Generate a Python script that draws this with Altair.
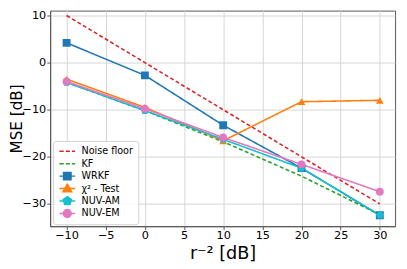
import altair as alt
import pandas as pd

# ---- data ----
x_vals = [-10, 0, 10, 20, 30]
series_names = ["Noise floor", "KF", "WRKF", "χ² - Test", "NUV-AM", "NUV-EM"]
noise_floor = [10.0, 0.0, -10.0, -20.0, -30.0]
kf = [-4.2, -10.2, -16.8, -24.1, -32.3]
wrkf = [4.2, -2.7, -13.3, -22.4, -32.4]
chi2_test = [-3.5, -9.5, -16.6, -8.3, -8.0]
nuv_am = [-4.2, -10.2, -16.3, -22.4, -32.4]
nuv_em = [-4.0, -9.8, -15.9, -21.6, -27.4]
x_ticks = [-10, -5, 0, 5, 10, 15, 20, 25, 30]
y_ticks = [-30, -20, -10, 0, 10]

colors = ["#d62728", "#2ca02c", "#1f77b4", "#ff7f0e", "#17becf", "#e377c2"]
dashes = [[4, 2.5], [4, 2.5], [1, 0], [1, 0], [1, 0], [1, 0]]
line_widths = [1.6, 1.6, 1.3, 1.3, 1.6, 1.3]

values = [noise_floor, kf, wrkf, chi2_test, nuv_am, nuv_em]
rows = []
for name, ys in zip(series_names, values):
    for xv, yv in zip(x_vals, ys):
        rows.append({"series": name, "x": xv, "y": yv})
df = pd.DataFrame(rows)

pentagon = "M0,-1.05L0.999,-0.324L0.617,0.849L-0.617,0.849L-0.999,-0.324Z"
marker_shapes = {"WRKF": "square", "χ² - Test": "triangle-up", "NUV-AM": pentagon, "NUV-EM": "circle"}

# legend symbol paths (unit = sqrt(symbolSize)/2 px)
dash_path = "M-1.78,0H-0.8M-0.35,0H0.6M1.05,0H1.78"
line_path = "M-1.78,0H1.78"
legend_shapes = [
    dash_path,
    dash_path,
    line_path + "M-0.85,-0.85H0.85V0.85H-0.85Z",
    line_path + "M0,-1.05L1.0,0.75H-1.0Z",
    line_path + "M0,-1.0L0.95,-0.31L0.59,0.81L-0.59,0.81L-0.95,-0.31Z",
    line_path + "M0.9,0A0.9,0.9,0,1,1,-0.9,0A0.9,0.9,0,1,1,0.9,0Z",
]
df_leg = pd.DataFrame({"series": series_names})

x_enc = alt.X("x:Q", scale=alt.Scale(domain=[-12.1, 31.95], nice=False, zero=False),
              axis=alt.Axis(values=x_ticks, title="r⁻² [dB]", titleBaseline="alphabetic",
                            titleY=33, labelPadding=0, titleFontSize=18))
y_enc = alt.Y("y:Q", scale=alt.Scale(domain=[-34.73, 11.04], nice=False, zero=False),
              axis=alt.Axis(values=y_ticks, title="MSE [dB]", titleX=-29,
                            titleBaseline="alphabetic", labelPadding=1))

color_scale = alt.Scale(domain=series_names, range=colors)

lines = alt.Chart(df).mark_line(clip=True).encode(
    x=x_enc,
    y=y_enc,
    color=alt.Color("series:N", scale=color_scale, legend=None),
    strokeDash=alt.StrokeDash("series:N", scale=alt.Scale(domain=series_names, range=dashes), legend=None),
    strokeWidth=alt.StrokeWidth("series:N", scale=alt.Scale(domain=series_names, range=line_widths), legend=None),
    detail="series:N",
)

point_layers = []
for name, shp in marker_shapes.items():
    point_layers.append(
        alt.Chart(df[df["series"] == name]).mark_point(
            filled=True, opacity=1, size=64, shape=shp, clip=True
        ).encode(
            x="x:Q",
            y="y:Q",
            color=alt.Color("series:N", scale=color_scale, legend=None),
        )
    )

leg = alt.Legend(
    title=None, orient="none", legendX=3, legendY=133,
    symbolSize=81, symbolStrokeWidth=1.5, clipHeight=11,
    labelFont="DejaVu Sans", labelFontSize=9.8, labelColor="black",
    rowPadding=1.7, padding=5, labelOffset=9, symbolOffset=4,
    strokeColor="#d0d0d0", fillColor="rgba(255,255,255,0.85)", cornerRadius=3,
)

legend_layer = alt.Chart(df_leg).mark_point(filled=True, clip=True, size=81, opacity=1).encode(
    x=alt.value(-200),
    y=alt.value(-200),
    color=alt.Color("series:N", scale=alt.Scale(domain=series_names, range=colors), legend=leg),
    stroke=alt.Stroke("series:N", scale=alt.Scale(domain=series_names, range=colors), legend=leg),
    shape=alt.Shape("series:N", scale=alt.Scale(domain=series_names, range=legend_shapes), legend=leg),
)

chart = alt.layer(lines, *point_layers, legend_layer).resolve_scale(
    color="independent", shape="independent", stroke="independent"
).properties(
    width=352, height=220,
    autosize=alt.AutoSizeParams(type="none"),
    padding={"left": 43, "top": 0, "right": 4, "bottom": 41},
).configure_view(
    stroke="#555555", strokeWidth=1
).configure_axis(
    labelFont="DejaVu Sans", labelFontSize=11.5, labelColor="black",
    titleFont="DejaVu Sans", titleFontSize=15.5, titleFontWeight="normal", titleColor="black",
    gridColor="#d5d5d5", gridWidth=1, domainColor="#555555", tickColor="#555555",
    tickSize=3.5,
)

chart.save("out.html", embed_options={"renderer": "svg", "actions": False})
